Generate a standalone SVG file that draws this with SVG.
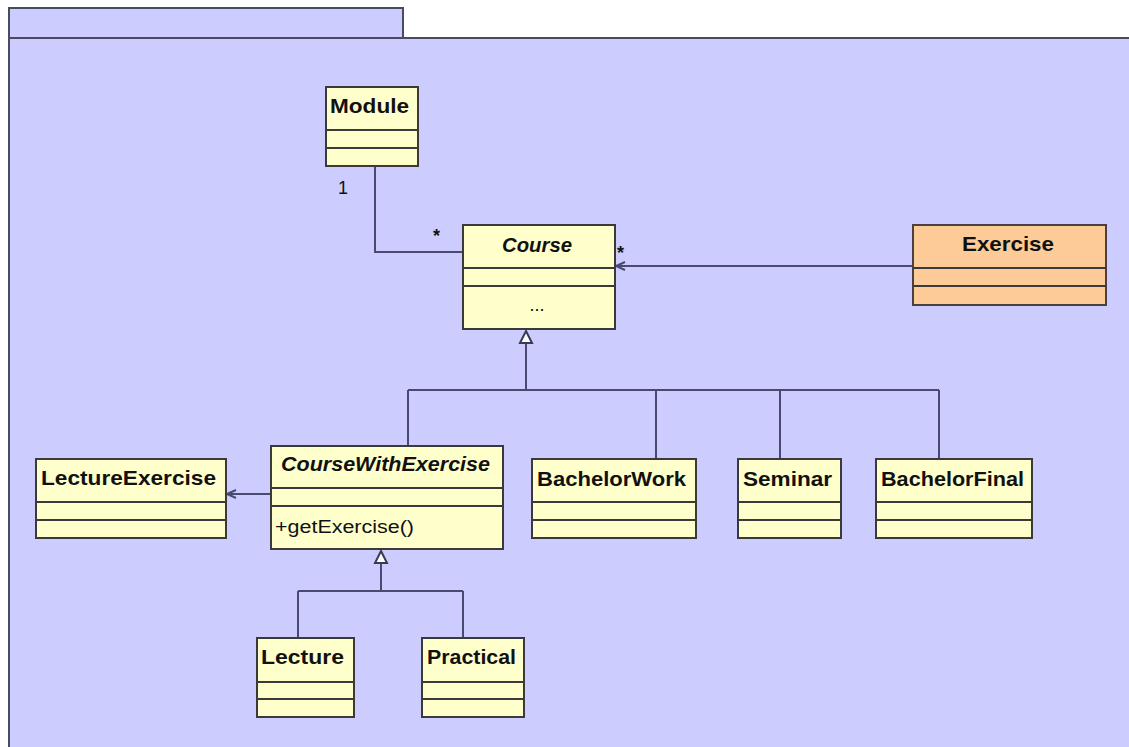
<svg xmlns="http://www.w3.org/2000/svg" width="1129" height="747" viewBox="0 0 1129 747">
<style>
.pkg{fill:#ccccfe;stroke:#4a4a60;stroke-width:2}
.cls{fill:#ffffcc;stroke:#3a3a3a;stroke-width:2}
.exc{fill:#fdcb97;stroke:#4a4040;stroke-width:2}
.div{stroke:#3a3a3a;stroke-width:2}
.t{font-family:"Liberation Sans",Arial,sans-serif;font-weight:bold;font-size:21px;fill:#111}
.ti{font-style:italic}
.m{font-family:"Liberation Sans",Arial,sans-serif;font-size:18px;fill:#111}
.lbl{font-family:"Liberation Sans",Arial,sans-serif;font-size:18px;fill:#111}
.conn{fill:none;stroke:#4a4a70;stroke-width:2}
.gen{fill:#ffffff;stroke:#3a3a50;stroke-width:2}
</style>
<rect width="1129" height="747" fill="#ffffff"/>
<g id="package">
<rect class="pkg" x="9" y="8" width="394" height="30"/>
<rect class="pkg" x="9" y="38" width="1130" height="720"/>
</g>
<g id="connectors">
<path class="conn" d="M375,166 V252 H463"/>
<path class="conn" d="M913,266 H616"/>
<path class="conn" d="M625,262 L616,266 L625,270"/>
<path class="conn" d="M271,494 H227"/>
<path class="conn" d="M236,490 L227,494 L236,498"/>
<path class="conn" d="M526,343 V390 M408,390 H939 M408,390 V446 M656,390 V459 M780,390 V459 M939,390 V459"/>
<path class="gen" d="M526,331 L532,343 L520,343 Z"/>
<path class="conn" d="M381,563 V591 M298,591 H463 M298,591 V638 M463,591 V638"/>
<path class="gen" d="M381,551 L387,563 L375,563 Z"/>
<text class="lbl" x="338" y="194">1</text>
<text class="lbl" x="433" y="242" font-size="14" font-weight="bold">*</text>
<text class="lbl" x="617" y="259" font-size="14" font-weight="bold">*</text>
</g>
<g id="Module">
<rect class="cls" x="326" y="87" width="92" height="79"/>
<line class="div" x1="326" y1="130" x2="418" y2="130"/>
<line class="div" x1="326" y1="148" x2="418" y2="148"/>
<text class="t" x="330" y="113" textLength="79" lengthAdjust="spacingAndGlyphs">Module</text>
</g>
<g id="Course">
<rect class="cls" x="463" y="225" width="152" height="104"/>
<line class="div" x1="463" y1="268" x2="615" y2="268"/>
<line class="div" x1="463" y1="286" x2="615" y2="286"/>
<text class="t ti" x="502" y="252" textLength="70" lengthAdjust="spacingAndGlyphs">Course</text>
<text class="m" x="537" y="311" text-anchor="middle" font-size="13" fill="#555">...</text>
</g>
<g id="Exercise">
<rect class="exc" x="913" y="225" width="193" height="80"/>
<line class="div" x1="913" y1="268" x2="1106" y2="268" stroke="#4a4040"/>
<line class="div" x1="913" y1="286" x2="1106" y2="286" stroke="#4a4040"/>
<text class="t" x="962" y="251" textLength="92" lengthAdjust="spacingAndGlyphs">Exercise</text>
</g>
<g id="LectureExercise">
<rect class="cls" x="36" y="459" width="190" height="79"/>
<line class="div" x1="36" y1="502" x2="226" y2="502"/>
<line class="div" x1="36" y1="520" x2="226" y2="520"/>
<text class="t" x="41" y="485" textLength="175" lengthAdjust="spacingAndGlyphs">LectureExercise</text>
</g>
<g id="CourseWithExercise">
<rect class="cls" x="271" y="446" width="232" height="103"/>
<line class="div" x1="271" y1="488" x2="503" y2="488"/>
<line class="div" x1="271" y1="506" x2="503" y2="506"/>
<text class="t ti" x="281" y="471" textLength="209" lengthAdjust="spacingAndGlyphs">CourseWithExercise</text>
<text class="m" x="275" y="533" textLength="139" lengthAdjust="spacingAndGlyphs">+getExercise()</text>
</g>
<g id="BachelorWork">
<rect class="cls" x="532" y="459" width="164" height="79"/>
<line class="div" x1="532" y1="502" x2="696" y2="502"/>
<line class="div" x1="532" y1="520" x2="696" y2="520"/>
<text class="t" x="537" y="486" textLength="149" lengthAdjust="spacingAndGlyphs">BachelorWork</text>
</g>
<g id="Seminar">
<rect class="cls" x="738" y="459" width="103" height="79"/>
<line class="div" x1="738" y1="502" x2="841" y2="502"/>
<line class="div" x1="738" y1="520" x2="841" y2="520"/>
<text class="t" x="743" y="486" textLength="89" lengthAdjust="spacingAndGlyphs">Seminar</text>
</g>
<g id="BachelorFinal">
<rect class="cls" x="876" y="459" width="156" height="79"/>
<line class="div" x1="876" y1="502" x2="1032" y2="502"/>
<line class="div" x1="876" y1="520" x2="1032" y2="520"/>
<text class="t" x="881" y="486" textLength="143" lengthAdjust="spacingAndGlyphs">BachelorFinal</text>
</g>
<g id="Lecture">
<rect class="cls" x="257" y="638" width="97" height="79"/>
<line class="div" x1="257" y1="682" x2="354" y2="682"/>
<line class="div" x1="257" y1="699" x2="354" y2="699"/>
<text class="t" x="261" y="664" textLength="83" lengthAdjust="spacingAndGlyphs">Lecture</text>
</g>
<g id="Practical">
<rect class="cls" x="422" y="638" width="102" height="79"/>
<line class="div" x1="422" y1="682" x2="524" y2="682"/>
<line class="div" x1="422" y1="699" x2="524" y2="699"/>
<text class="t" x="427" y="664" textLength="89" lengthAdjust="spacingAndGlyphs">Practical</text>
</g>
</svg>
